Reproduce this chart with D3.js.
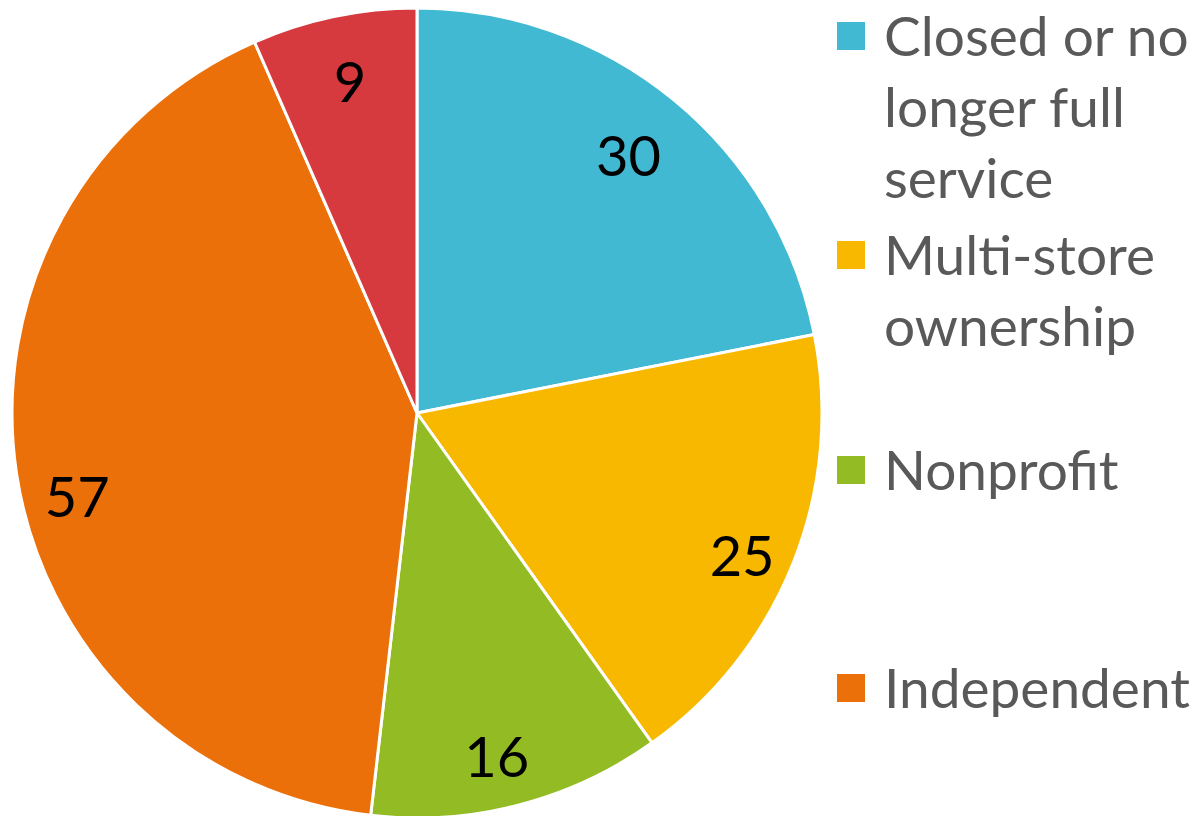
<!DOCTYPE html>
<html>
<head>
<meta charset="utf-8">
<script src="https://cdn.jsdelivr.net/npm/d3@7"></script>
<style>
  html, body { margin: 0; padding: 0; background: #fff; }
  svg { display: block; font-family: Lato, "Open Sans", sans-serif; }
</style>
</head>
<body>
<div id="vis"></div>
<script>
const svgWidth = 1196;
const svgHeight = 816;

// data
const categories = ['Closed or no longer full service', 'Multi-store ownership', 'Nonprofit', 'Independent', 'Other'];
const values = [30, 25, 16, 57, 9];
const colors = ['#41b9d3', '#f9b800', '#93bb24', '#ec700a', '#d63a3f'];
const legendLines = [['Closed or no', 'longer full', 'service'], ['Multi-store', 'ownership'], ['Nonprofit'], ['Independent']];

// label placement tweaks (radius in px, angle shift in degrees), like excel's best fit
const labelRadius = [333, 355, 353, 350, 338];
const labelShift = [0, 2, 1.4, -5.4, 0.4];

const cx = 417;
const cy = 413;
const radius = 405;

const svg = d3.select('#vis').append('svg').attr('width', svgWidth).attr('height', svgHeight);

const data = categories.map((c, i) => ({ name: c, value: values[i], color: colors[i] }));

const pie = d3.pie().sort(null).value((d) => d.value);
const arc = d3.arc().innerRadius(0).outerRadius(radius);

const g = svg.append('g').attr('transform', `translate(${cx},${cy})`);

g.selectAll('path')
  .data(pie(data))
  .join('path')
  .attr('d', arc)
  .attr('fill', (d) => d.data.color)
  .attr('stroke', '#fff')
  .attr('stroke-width', 3)
  .attr('stroke-linejoin', 'round');

const labelPos = (d, i) => {
  const a = (d.startAngle + d.endAngle) / 2 + (labelShift[i] * Math.PI) / 180;
  const r = labelRadius[i];
  return [r * Math.sin(a), -r * Math.cos(a)];
};

g.selectAll('text.label')
  .data(pie(data))
  .join('text')
  .attr('class', 'label')
  .attr('transform', (d, i) => `translate(${labelPos(d, i)})`)
  .attr('text-anchor', 'middle')
  .attr('dy', '0.36em')
  .style('font-size', '56px')
  .attr('fill', '#000')
  .text((d) => d.data.value);

// legend (only the first four categories appear)
const legendY = [36, 255, 470, 688];
const lineH = 71;
const legend = svg.append('g');

legendLines.forEach((lines, i) => {
  const item = legend.append('g').attr('transform', `translate(837,${legendY[i]})`);
  item.append('rect')
    .attr('x', 0)
    .attr('y', -14)
    .attr('width', 28)
    .attr('height', 28)
    .attr('fill', colors[i]);
  item.selectAll('text')
    .data(lines)
    .join('text')
    .attr('x', 47)
    .attr('y', (d, j) => j * lineH)
    .attr('dy', '0.36em')
    .attr('fill', '#595959')
    .style('font-size', '55px')
    .text((d) => d);
});
</script>
</body>
</html>
